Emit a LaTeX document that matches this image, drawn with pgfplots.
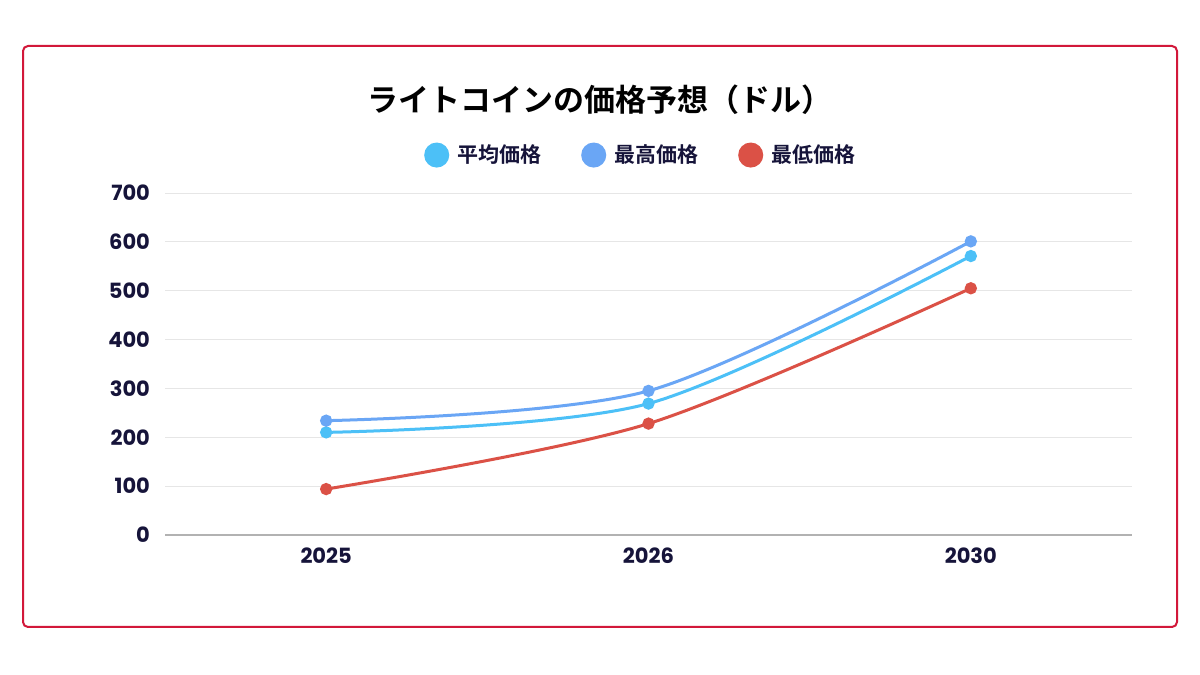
\documentclass[border=0pt]{standalone}
\usepackage{pgfplots}
\pgfplotsset{compat=1.18}
\usepackage{fontspec}
\setmainfont{Poppins}
\newfontfamily\jp{Noto Sans CJK JP}[BoldFont={Noto Sans CJK JP Bold}]

\definecolor{avgc}{HTML}{4CC0F7}
\definecolor{maxc}{HTML}{6AA6F5}
\definecolor{minc}{HTML}{DB5146}
\definecolor{framec}{HTML}{D2183A}
\definecolor{ink}{HTML}{16143A}
\definecolor{gridc}{HTML}{E6E6E6}

\begin{document}
\begin{tikzpicture}
% canvas, 1px = 0.5pt
\fill[white] (0pt,0pt) rectangle (600pt,337.5pt);
\draw[framec, line width=1pt, rounded corners=2.5pt] (11.5pt,24pt) rectangle (588.5pt,314.5pt);
\node[font=\jp\bfseries\fontsize{15.5}{18}\selectfont, text=black] at (300pt,287.5pt) {ライトコインの価格予想（ドル）};

\begin{axis}[
 at={(82.5pt,70pt)}, anchor=south west,
 scale only axis, width=483.5pt, height=171pt,
 xmin=-0.5, xmax=2.5, ymin=0, ymax=700,
 ytick={0,100,...,700},
 xtick=data, xticklabels={2025,2026,2030},
 ymajorgrids, grid style={gridc, line width=0.5pt},
 axis x line*=bottom, axis y line*=left,
 y axis line style={draw=none},
 x axis line style={draw=black!30, line width=0.6pt},
 major tick length=0pt,
 /pgf/number format/assume math mode=true,
 tick label style={font=\bfseries\fontsize{10.5}{12}\selectfont, text=ink},
 yticklabel style={xshift=-4pt},
 xticklabel style={yshift=-3pt},
 legend columns=-1,
 legend style={draw=none, fill=none, at={(0.493,1.111)}, anchor=center,
   font=\jp\bfseries\fontsize{10.5}{12}\selectfont, text=ink,
   /tikz/every even column/.append style={column sep=18pt}},
 legend image code/.code={\fill[#1] (5.5pt,0pt) circle (5.5pt); \path (13pt,0pt);},
]
\addplot[avgc, line width=1.5pt, smooth, tension=0.5, mark=*, mark size=2.3pt, mark options={solid, fill=avgc, draw=avgc}] coordinates {
 (0,210) (1,269) (2,571)
};
\addlegendentry{平均価格}
\addplot[maxc, line width=1.5pt, smooth, tension=0.5, mark=*, mark size=2.3pt, mark options={solid, fill=maxc, draw=maxc}] coordinates {
 (0,234) (1,295) (2,601)
};
\addlegendentry{最高価格}
\addplot[minc, line width=1.5pt, smooth, tension=0.5, mark=*, mark size=2.3pt, mark options={solid, fill=minc, draw=minc}] coordinates {
 (0,94) (1,228) (2,505)
};
\addlegendentry{最低価格}
\end{axis}
\end{tikzpicture}
\end{document}
